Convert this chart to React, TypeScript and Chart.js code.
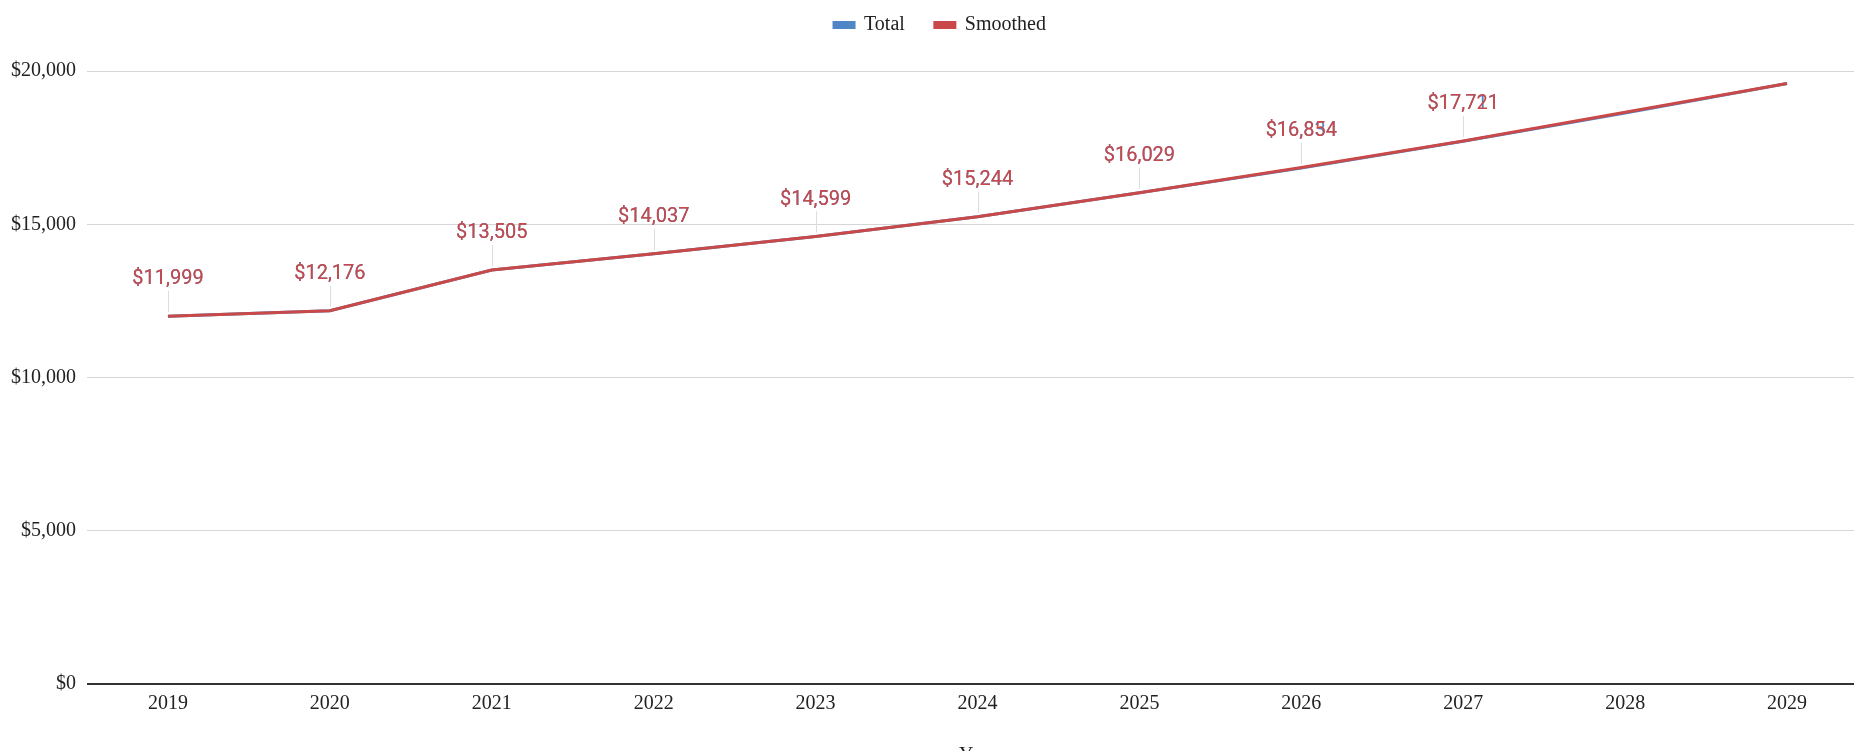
import React, { useEffect, useRef } from "react";
import { Chart, registerables } from "chart.js";

Chart.register(...registerables);

const years = ["2019", "2020", "2021", "2022", "2023", "2024", "2025", "2026", "2027", "2028", "2029"];
const totalValues = [11999, 12176, 13505, 14037, 14599, 15244, 16029, 16834, 17711, 18630, 19600];
const smoothedValues = [11999, 12176, 13505, 14037, 14599, 15244, 16029, 16854, 17721, 18660, 19600];
const labeledPoints = 9;
const yMin = 0;
const yMax = 20000;
const yStep = 5000;

const BLUE = "#4f86c6";
const RED = "#c94848";
const SERIF = "'Liberation Serif', 'Times New Roman', serif";
const LABEL_FONT = "Roboto, 'Noto Sans', sans-serif";

const fmt = (v: number) => "$" + Math.round(v).toLocaleString("en-US");

const dataLabelPlugin = {
  id: "dataLabels",
  afterDatasetsDraw(chart: any) {
    const ctx = chart.ctx;
    ctx.save();
    chart.data.datasets.forEach((ds: any, di: number) => {
      const meta = chart.getDatasetMeta(di);
      if (meta.hidden) return;
      meta.data.forEach((pt: any, i: number) => {
        if (i >= labeledPoints) return;
        const x = pt.x;
        const y = pt.y;
        ctx.strokeStyle = "#dddddd";
        ctx.lineWidth = 1;
        ctx.beginPath();
        ctx.moveTo(Math.round(x) + 0.5, y - 4);
        ctx.lineTo(Math.round(x) + 0.5, y - 25);
        ctx.stroke();
        ctx.fillStyle = ds.borderColor;
        ctx.font = "20px " + LABEL_FONT;
        ctx.textAlign = "center";
        ctx.textBaseline = "middle";
        ctx.fillText(fmt(ds.data[i]), x, y - 37);
      });
    });
    ctx.restore();
  },
};

export default function App() {
  const ref = useRef<HTMLCanvasElement | null>(null);
  useEffect(() => {
    if (!ref.current) return;
    const chart = new Chart(ref.current, {
      type: "line",
      data: {
        labels: years,
        datasets: [
          {
            label: "Total",
            data: totalValues,
            borderColor: BLUE,
            backgroundColor: BLUE,
            borderWidth: 3,
            pointRadius: 0,
            tension: 0,
            order: 1,
          },
          {
            label: "Smoothed",
            data: smoothedValues,
            borderColor: RED,
            backgroundColor: RED,
            borderWidth: 3,
            pointRadius: 0,
            tension: 0,
            order: 0,
          },
        ],
      },
      options: {
        responsive: false,
        animation: false,
        devicePixelRatio: 1,
        layout: { padding: { top: -15, left: 0, right: 10, bottom: 0 } },
        plugins: {
          legend: {
            position: "top",
            align: "center",
            labels: {
              boxWidth: 20,
              boxHeight: 5,
              padding: 30,
              color: "#222",
              font: { family: SERIF, size: 20 },
              sort: (a: any, b: any) => a.datasetIndex - b.datasetIndex,
            },
          },
          subtitle: {
            display: true,
            text: "",
            font: { size: 1 },
            padding: { top: 0, bottom: 25 },
            weight: 500,
          } as any,
          tooltip: { enabled: false },
        },
        scales: {
          x: {
            offset: true,
            grid: { display: false, drawTicks: false },
            border: { display: false },
            ticks: { color: "#222", font: { family: SERIF, size: 20 }, padding: 8 },
            title: {
              display: true,
              text: "Year",
              color: "#222",
              font: { family: SERIF, size: 20 },
              padding: { top: 20.5, bottom: 4 },
            },
          },
          y: {
            min: yMin,
            max: yMax,
            grid: {
              drawTicks: false,
              color: (c: any) => (c.tick && c.tick.value === 0 ? "#333333" : "#d6d6d6"),
              lineWidth: (c: any) => (c.tick && c.tick.value === 0 ? 2 : 1),
            },
            border: { display: false },
            ticks: {
              stepSize: yStep,
              padding: 11,
              color: "#222",
              font: { family: SERIF, size: 20 },
              callback: (v: any) => fmt(Number(v)),
            },
          },
          yRightSpace: {
            position: "right",
            display: true,
            min: yMin,
            max: yMax,
            grid: { display: false, drawTicks: false },
            border: { display: false },
            ticks: { display: false },
            afterFit: (s: any) => {
              s.width = 12;
            },
          },
        },
      },
      plugins: [dataLabelPlugin],
    });
    return () => chart.destroy();
  }, []);
  return (
    <div
      style={{
        position: "fixed",
        left: 0,
        top: 0,
        width: 1854,
        height: 751,
        overflow: "hidden",
        background: "#fff",
      }}
    >
      <canvas ref={ref} width={1890} height={772} style={{ display: "block", width: 1890, height: 772 }} />
    </div>
  );
}
